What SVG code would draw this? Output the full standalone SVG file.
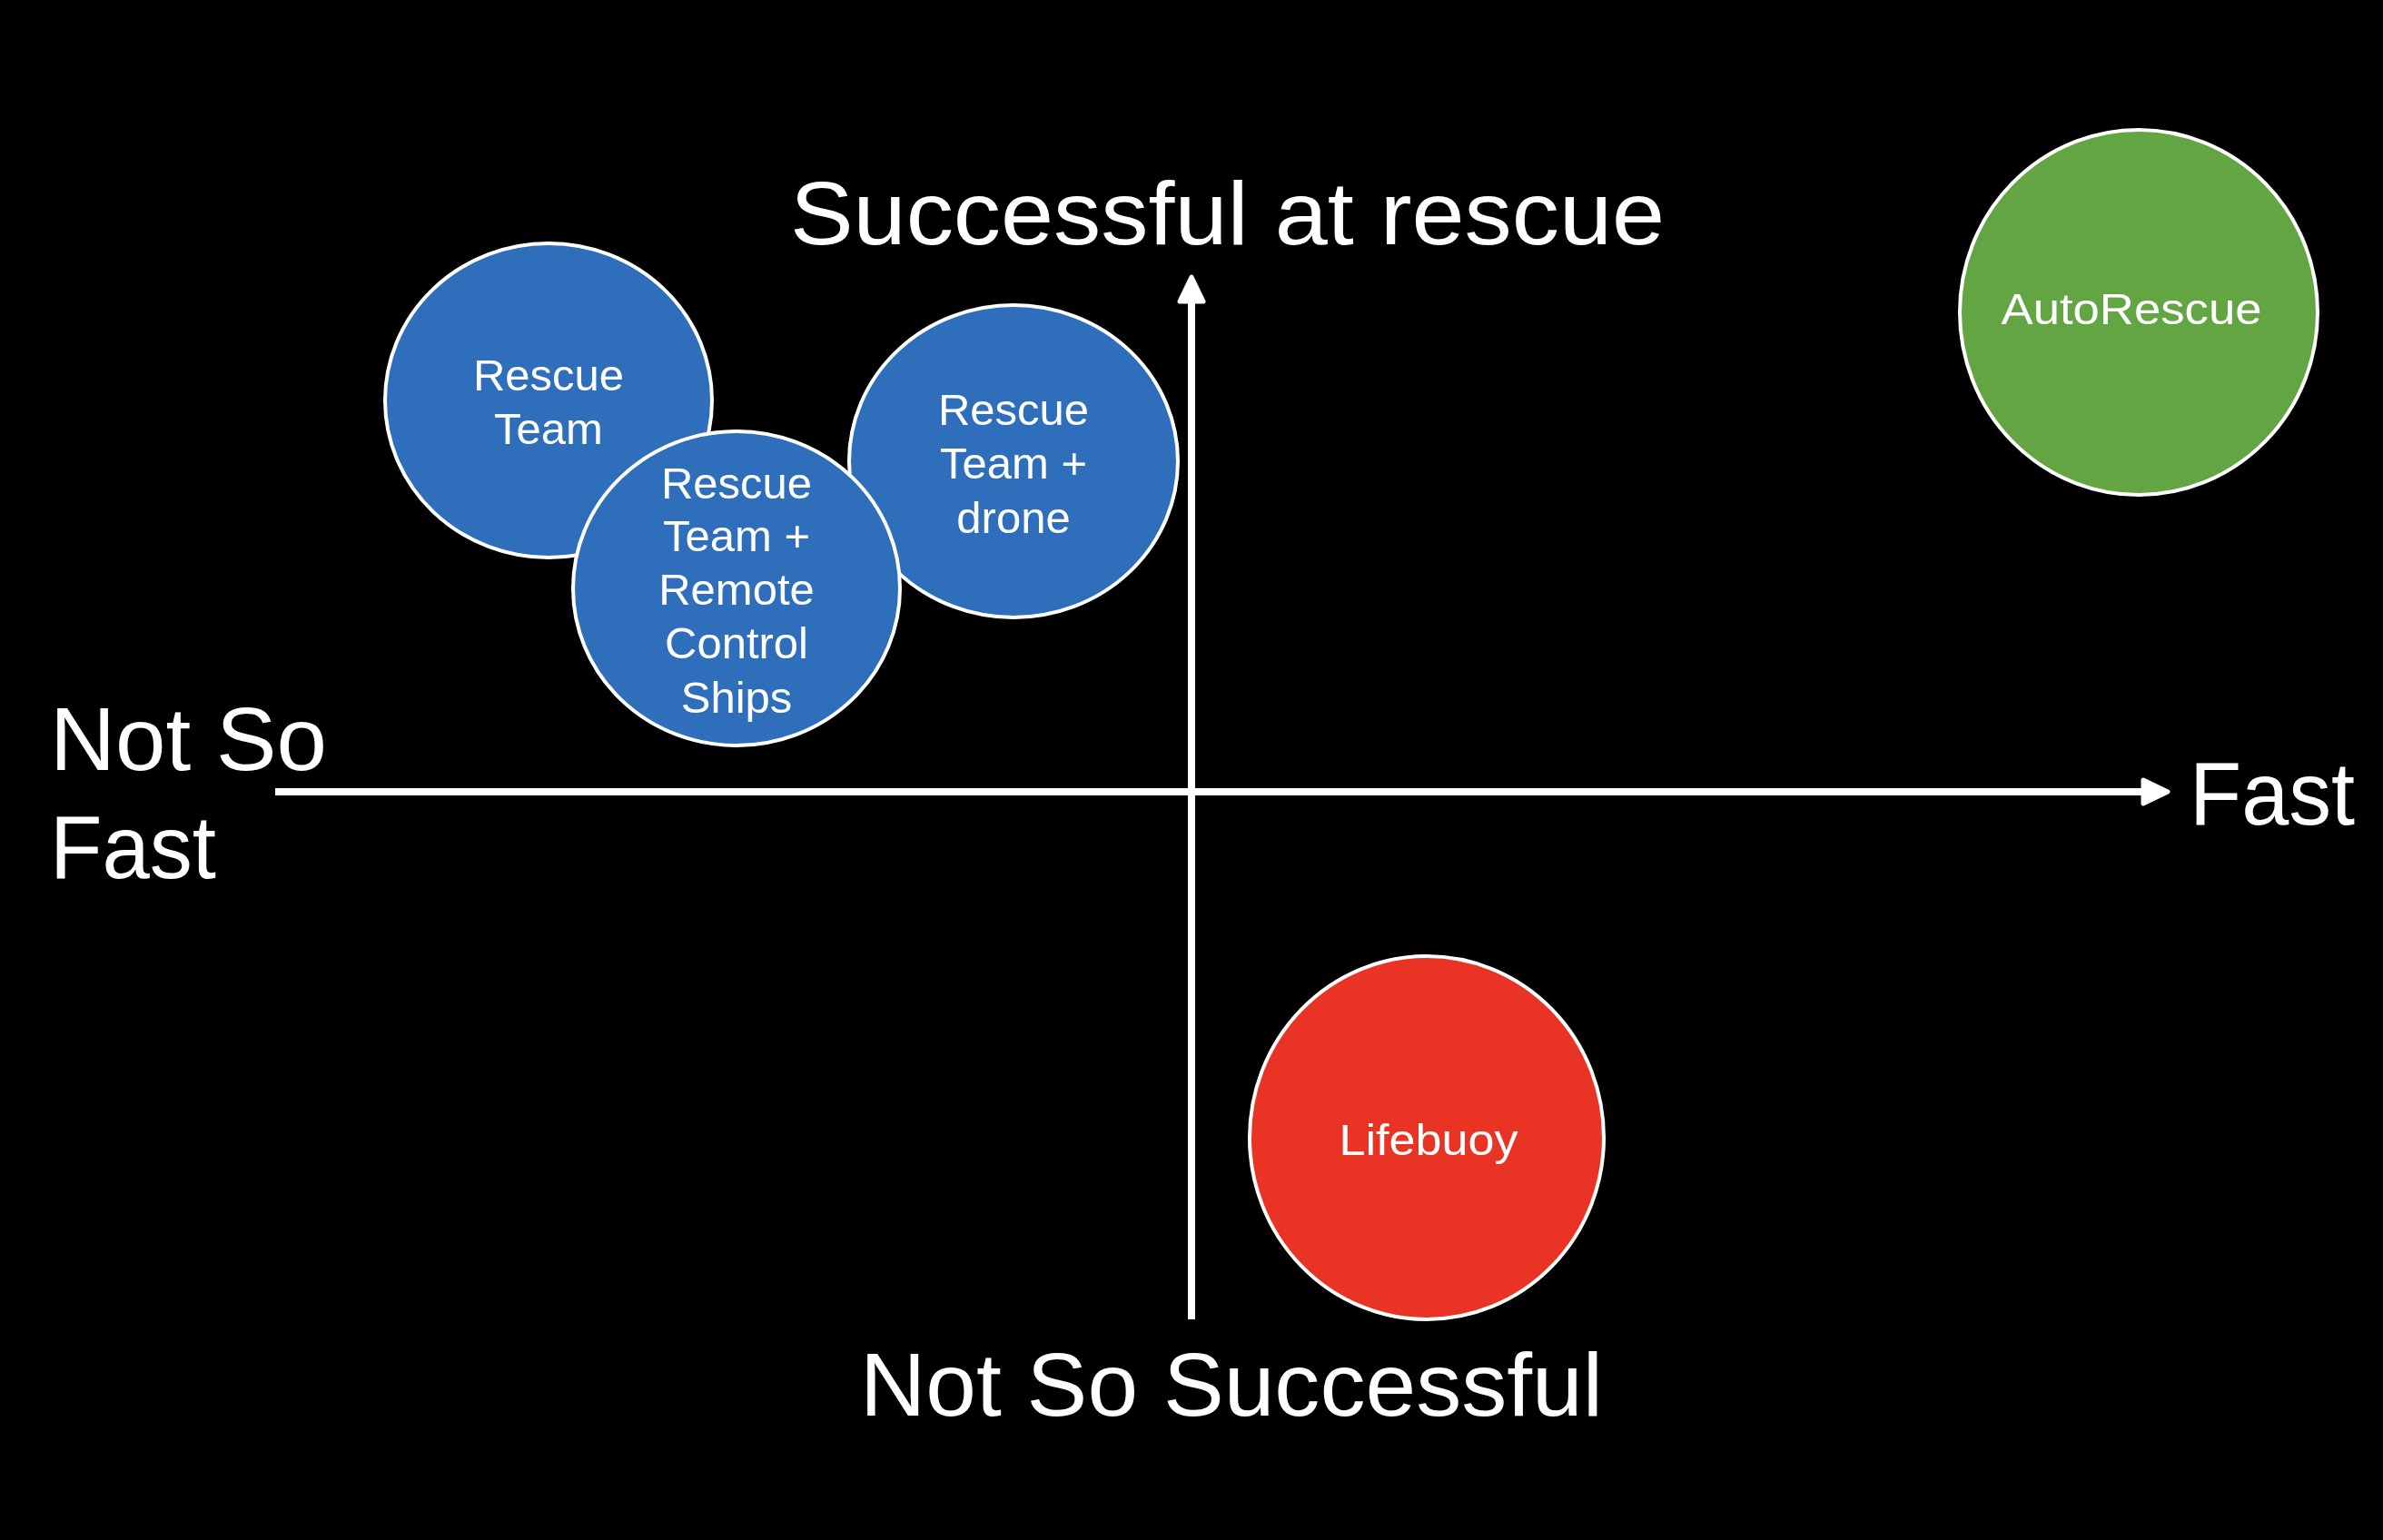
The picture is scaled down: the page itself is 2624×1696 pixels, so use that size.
<svg xmlns="http://www.w3.org/2000/svg" width="2624" height="1696" viewBox="0 0 2624 1696">
  <style>
    .axis { stroke: #ffffff; stroke-width: 8; fill: none; }
    .node { stroke: #ffffff; stroke-width: 4; }
    .blue { fill: #2F6EBA; }
    .green { fill: #63A543; }
    .red { fill: #E93324; }
    .lbl { font-family: "Liberation Sans", Arial, sans-serif; fill: #ffffff; text-anchor: middle; font-size: 49px; }
    .axlbl { font-family: "Liberation Sans", Arial, sans-serif; fill: #ffffff; font-size: 98px; }
  </style>
  <defs>
    <marker id="arrow" markerUnits="userSpaceOnUse" viewBox="-4 -20 36 40" markerWidth="36" markerHeight="40" refX="7" refY="0" orient="auto">
      <path d="M0,-13 L27,0 L0,13 Z" fill="#ffffff" stroke="#ffffff" stroke-width="5" stroke-linejoin="round"/>
    </marker>
  </defs>
  <rect x="0" y="0" width="2624" height="1696" fill="#000000"/>

  <g id="connectors">
    <line class="axis" x1="303" y1="872" x2="2367" y2="872" marker-end="url(#arrow)"/>
    <line class="axis" x1="1312" y1="1453" x2="1312" y2="325" marker-end="url(#arrow)"/>
  </g>

  <g id="axis-labels">
    <text class="axlbl" x="870" y="269" textLength="963" lengthAdjust="spacingAndGlyphs">Successful at rescue</text>
    <text class="axlbl" x="947" y="1559" textLength="818" lengthAdjust="spacingAndGlyphs">Not So Successful</text>
    <text class="axlbl" x="2411" y="908" textLength="182" lengthAdjust="spacingAndGlyphs">Fast</text>
    <text class="axlbl" x="55" y="848" textLength="305" lengthAdjust="spacingAndGlyphs">Not So</text>
    <text class="axlbl" x="55" y="967" textLength="183" lengthAdjust="spacingAndGlyphs">Fast</text>
  </g>

  <g id="node-rescue-team">
    <ellipse class="node blue" cx="604" cy="441" rx="180" ry="173"/>
    <text class="lbl" x="604" y="430">Rescue</text>
    <text class="lbl" x="604" y="489">Team</text>
  </g>

  <g id="node-rescue-team-drone">
    <ellipse class="node blue" cx="1116" cy="508" rx="181" ry="172"/>
    <text class="lbl" x="1116" y="468">Rescue</text>
    <text class="lbl" x="1116" y="527">Team +</text>
    <text class="lbl" x="1116" y="587">drone</text>
  </g>

  <g id="node-rescue-team-rcs">
    <ellipse class="node blue" cx="811" cy="648" rx="180" ry="173"/>
    <text class="lbl" x="811" y="549">Rescue</text>
    <text class="lbl" x="811" y="607">Team +</text>
    <text class="lbl" x="811" y="666">Remote</text>
    <text class="lbl" x="811" y="725">Control</text>
    <text class="lbl" x="811" y="785">Ships</text>
  </g>

  <g id="node-autorescue">
    <ellipse class="node green" cx="2355" cy="344" rx="197" ry="201"/>
    <text class="lbl" x="2347" y="357" textLength="287" lengthAdjust="spacingAndGlyphs">AutoRescue</text>
  </g>

  <g id="node-lifebuoy">
    <ellipse class="node red" cx="1571" cy="1253" rx="195" ry="200"/>
    <text class="lbl" x="1573" y="1272" textLength="197" lengthAdjust="spacingAndGlyphs">Lifebuoy</text>
  </g>
</svg>
